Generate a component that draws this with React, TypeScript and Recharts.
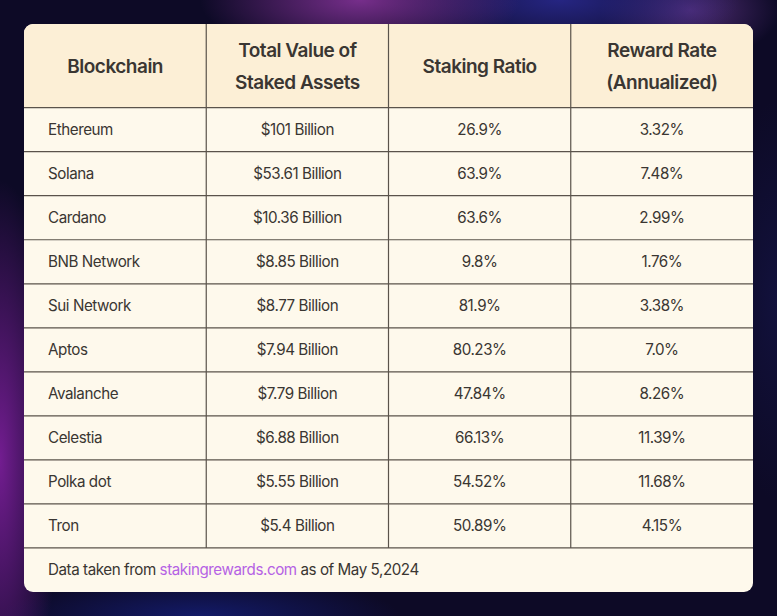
import React from 'react';
import { ScatterChart, Scatter, XAxis, YAxis, ReferenceLine, ReferenceArea } from 'recharts';

const headers: string[][] = [['Blockchain'], ['Total Value of', 'Staked Assets'], ['Staking Ratio'], ['Reward Rate', '(Annualized)']];
const blockchains = ['Ethereum', 'Solana', 'Cardano', 'BNB Network', 'Sui Network', 'Aptos', 'Avalanche', 'Celestia', 'Polka dot', 'Tron'];
const stakedValue = ['$101 Billion', '$53.61 Billion', '$10.36 Billion', '$8.85 Billion', '$8.77 Billion', '$7.94 Billion', '$7.79 Billion', '$6.88 Billion', '$5.55 Billion', '$5.4 Billion'];
const stakingRatio = ['26.9%', '63.9%', '63.6%', '9.8%', '81.9%', '80.23%', '47.84%', '66.13%', '54.52%', '50.89%'];
const rewardRate = ['3.32%', '7.48%', '2.99%', '1.76%', '3.38%', '7.0%', '8.26%', '11.39%', '11.68%', '4.15%'];
const footerParts = ['Data taken from ', 'stakingrewards.com', ' as of May 5,2024'];

const FONT = 'Inter, "Open Sans", sans-serif';
const HEADER_BG = '#FCEFD6';
const BODY_BG = '#FEF9EC';
const LINE = '#5A534B';
const TEXT = '#3A3632';
const LINK = '#B562E4';

const W = 729;
const H = 568;
const HEADER_SPAN = 1.9;
const ROWS = blockchains.length;
const FIRST_COL_X = 24 / 182;

const columns = [blockchains, stakedValue, stakingRatio, rewardRate];

const cellData = columns.map((col, ci) =>
  col.map((label, ri) => ({ x: ci === 0 ? FIRST_COL_X : ci + 0.5, y: ri + 0.5, label }))
);
const headerData = headers.map((lines, ci) => ({ x: ci + 0.5, y: -HEADER_SPAN / 2, lines }));
const footerData = [{ x: FIRST_COL_X, y: ROWS + 0.5, parts: footerParts }];

const CellText = (anchor: 'start' | 'middle') => (props: any) => (
  <text x={props.cx} y={props.cy} dy="0.36em" textAnchor={anchor} fontFamily={FONT} fontSize={15.2} letterSpacing={-0.45} fill={TEXT}>
    {props.payload.label}
  </text>
);

const HeaderText = (props: any) => {
  const lines: string[] = props.payload.lines;
  const gap = 32;
  const start = props.cy - ((lines.length - 1) * gap) / 2;
  return (
    <g>
      {lines.map((l, i) => (
        <text key={i} x={props.cx} y={start + i * gap} dy="0.36em" textAnchor="middle" fontFamily={FONT} fontSize={19} fontWeight={600} letterSpacing={-0.5} fill={TEXT}>
          {l}
        </text>
      ))}
    </g>
  );
};

const FooterText = (props: any) => {
  const parts: string[] = props.payload.parts;
  return (
    <text x={props.cx} y={props.cy} dy="0.36em" textAnchor="start" fontFamily={FONT} fontSize={15.2} letterSpacing={-0.45} fill={TEXT}>
      <tspan>{parts[0]}</tspan>
      <tspan fill={LINK}>{parts[1]}</tspan>
      <tspan>{parts[2]}</tspan>
    </text>
  );
};

export default function App() {
  return (
    <div
      style={{
        position: 'absolute',
        left: 0,
        top: 0,
        width: 777,
        height: 616,
        overflow: 'hidden',
        background:
          'radial-gradient(ellipse 160px 60px at 360px 0px, rgba(130,50,150,0.9), transparent),' +
          'radial-gradient(ellipse 180px 60px at 560px 0px, rgba(40,40,140,0.9), transparent),' +
          'radial-gradient(ellipse 90px 50px at 690px 10px, rgba(110,60,150,0.7), transparent),' +
          'radial-gradient(ellipse 60px 280px at 0px 460px, rgba(120,30,150,0.95), transparent),' +
          'radial-gradient(ellipse 200px 40px at 200px 616px, rgba(20,30,120,0.8), transparent),' +
          'radial-gradient(ellipse 60px 200px at 777px 300px, rgba(20,20,70,0.7), transparent),' +
          '#0D0A26',
      }}
    >
      <div
        style={{
          position: 'absolute',
          left: 24,
          top: 24,
          width: W,
          height: H,
          borderRadius: 9,
          overflow: 'hidden',
          background: BODY_BG,
        }}
      >
        <ScatterChart width={W} height={H} margin={{ top: 0, right: 0, bottom: 0, left: 0 }}>
          <XAxis type="number" dataKey="x" domain={[0, 4]} hide allowDataOverflow />
          <YAxis type="number" dataKey="y" domain={[-HEADER_SPAN, ROWS + 1]} reversed hide allowDataOverflow />
          <ReferenceArea x1={0} x2={4} y1={-HEADER_SPAN} y2={0} fill={HEADER_BG} fillOpacity={1} stroke="none" />
          {Array.from({ length: ROWS + 1 }, (_, k) => (
            <ReferenceLine key={'h' + k} y={k} stroke={LINE} strokeWidth={1.2} />
          ))}
          {[1, 2, 3].map((c) => (
            <ReferenceLine
              key={'v' + c}
              segment={[{ x: c, y: -HEADER_SPAN }, { x: c, y: ROWS }]}
              stroke={LINE}
              strokeWidth={1.2}
            />
          ))}
          <Scatter data={headerData} shape={HeaderText} isAnimationActive={false} />
          {cellData.map((d, ci) => (
            <Scatter key={ci} data={d} shape={CellText(ci === 0 ? 'start' : 'middle')} isAnimationActive={false} />
          ))}
          <Scatter data={footerData} shape={FooterText} isAnimationActive={false} />
        </ScatterChart>
      </div>
    </div>
  );
}
